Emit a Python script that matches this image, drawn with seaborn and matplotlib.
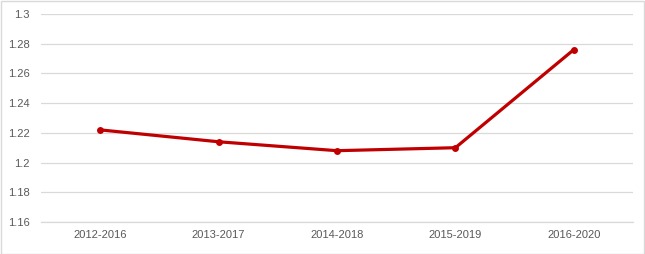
import matplotlib
matplotlib.use("Agg")
import matplotlib.pyplot as plt
import seaborn as sns
import pandas as pd
from matplotlib.patches import Rectangle

periods = ["2012-2016", "2013-2017", "2014-2018", "2015-2019", "2016-2020"]
values = [1.222, 1.214, 1.208, 1.210, 1.276]
yticks = [1.16, 1.18, 1.2, 1.22, 1.24, 1.26, 1.28, 1.3]
ytick_labels = ["1.16", "1.18", "1.2", "1.22", "1.24", "1.26", "1.28", "1.3"]

sns.set_style("white")
plt.rcParams['font.family'] = ['Liberation Sans', 'DejaVu Sans']

df = pd.DataFrame({"period": periods, "value": values})

fig = plt.figure(figsize=(6.45, 2.54), dpi=100)
ax = fig.add_axes([41/645, 1 - 222/254, 592/645, 208/254])

sns.lineplot(data=df, x="period", y="value", ax=ax, color="#C00000",
             linewidth=2.3, marker="o", markersize=5, markeredgewidth=0,
             sort=False)

ax.set_xlim(-0.5, len(periods) - 0.5)
ax.set_ylim(1.16, 1.3)
ax.set_yticks(yticks)
ax.set_yticklabels(ytick_labels)
ax.set_xlabel("")
ax.set_ylabel("")
ax.grid(axis="y", color="#D9D9D9", linewidth=0.9)
ax.set_axisbelow(True)
for s in ["top", "right", "left"]:
    ax.spines[s].set_visible(False)
ax.spines["bottom"].set_color("#D9D9D9")
ax.spines["bottom"].set_linewidth(0.9)
ax.tick_params(axis="both", length=0, colors="#595959", labelsize=8)
ax.tick_params(axis="y", pad=8)
ax.tick_params(axis="x", pad=6)

fig.patches.append(Rectangle((0.5/645, 0.5/254), 1 - 1.5/645, 1 - 1.5/254,
                             transform=fig.transFigure, fill=False,
                             edgecolor="#D9D9D9", linewidth=1))

fig.savefig("out.png", dpi=100)
